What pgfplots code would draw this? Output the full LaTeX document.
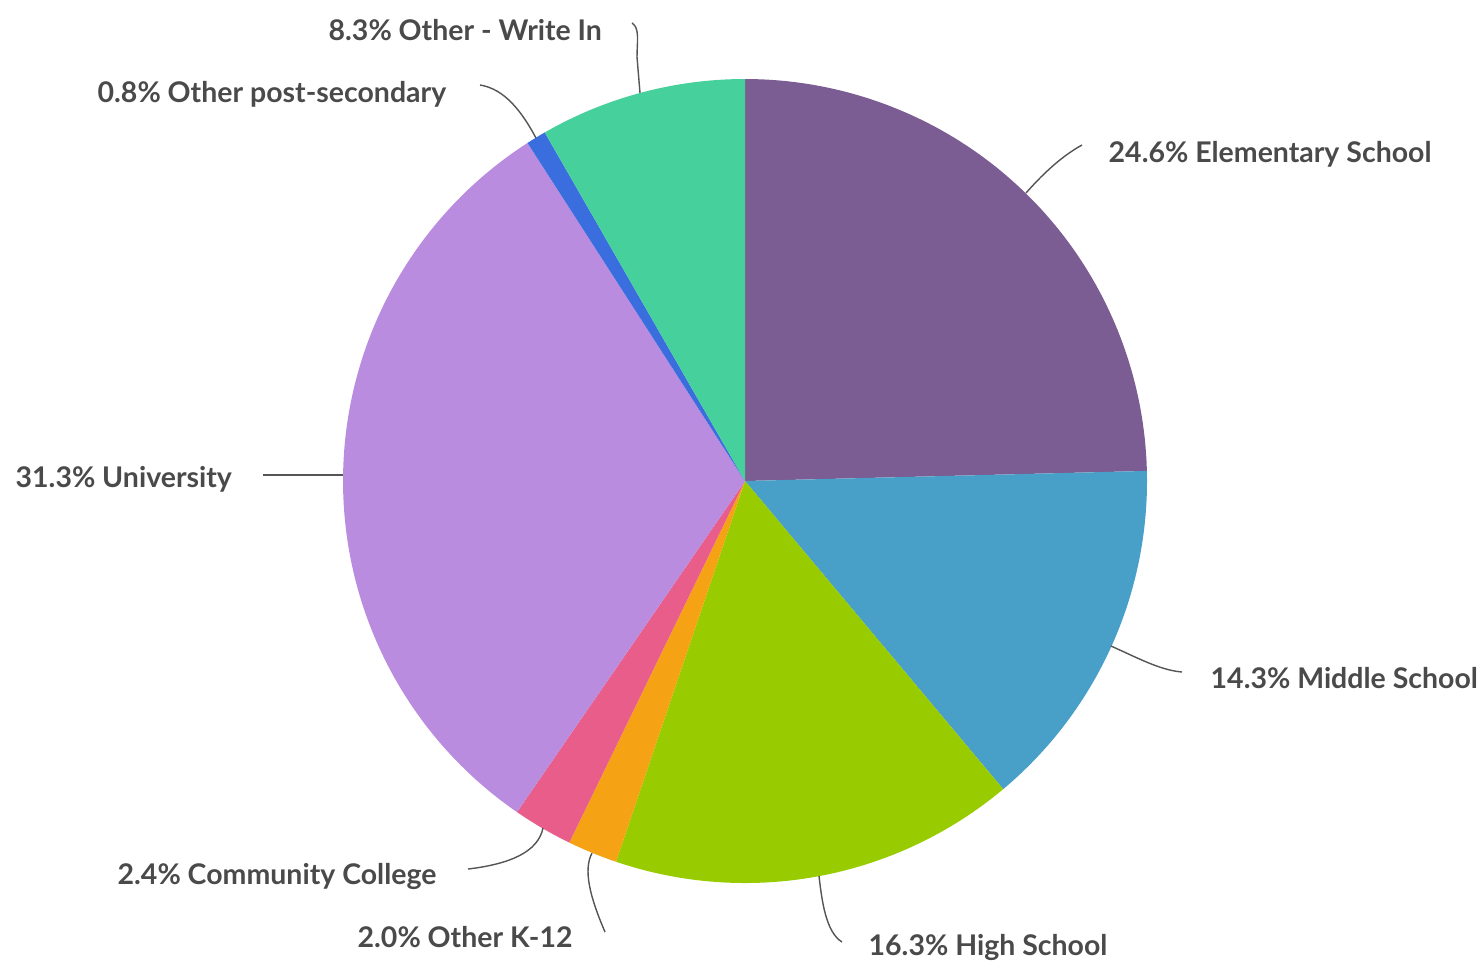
\documentclass[border=0pt]{standalone}
\usepackage{pgfplots}
\usepackage{pgfplotstable}
\pgfplotsset{compat=1.18}
\usepackage{fontspec}
\setmainfont{Lato}
\definecolor{cElem}{HTML}{7B5D93}
\definecolor{cMid}{HTML}{48A0C8}
\definecolor{cHigh}{HTML}{99CC00}
\definecolor{cK}{HTML}{F5A314}
\definecolor{cCC}{HTML}{E95D8A}
\definecolor{cUni}{HTML}{BA8CE0}
\definecolor{cPost}{HTML}{3A6EDE}
\definecolor{cWrite}{HTML}{45D09C}
\definecolor{txt}{HTML}{4A4A4A}
\definecolor{lead}{HTML}{555555}

\pgfplotstableread[col sep=comma]{
label,value,color
Elementary School,24.6,cElem
Middle School,14.3,cMid
High School,16.3,cHigh
Other K-12,2.0,cK
Community College,2.4,cCC
University,31.3,cUni
Other post-secondary,0.8,cPost
Other - Write In,8.3,cWrite
}\piedata

\begin{document}
\begin{tikzpicture}
\begin{axis}[
  width=14.79cm, height=9.62cm, scale only axis,
  xmin=0, xmax=1479, ymin=0, ymax=962,
  hide axis, clip=false,
]
\pgfplotstablegetrowsof{\piedata}
\pgfmathtruncatemacro{\N}{\pgfplotsretval-1}
\def\cum{0}
\pgfplotsforeachungrouped \i in {0,...,\N}{%
  \pgfplotstablegetelem{\i}{value}\of{\piedata}\let\v\pgfplotsretval
  \pgfplotstablegetelem{\i}{color}\of{\piedata}\let\c\pgfplotsretval
  \pgfmathsetmacro{\aend}{90-3.6*\cum}%
  \pgfmathsetmacro{\cum}{\cum+\v}%
  \pgfmathsetmacro{\astart}{90-3.6*\cum}%
  \edef\doplot{\noexpand\addplot[fill=\c, draw=none, domain=\astart:\aend, samples=120] ({745+402*cos(x)},{481+402*sin(x)}) -- (745,481) -- cycle;}%
  \doplot
}

% leader lines
\begin{scope}[lead, line width=0.4pt]
\draw (632,939) .. controls (640,934) and (637,920) .. (637,905) -- (640,869);
\draw (480,877) .. controls (505,873) and (522,850) .. (536,824);
\draw (1082,817) .. controls (1060,805) and (1040,785) .. (1026,769);
\draw (263,487) -- (343,487);
\draw (1111,316) .. controls (1140,303) and (1160,292) .. (1182,290);
\draw (819,86) .. controls (822,60) and (826,30) .. (842,20);
\draw (592,109) .. controls (583,92) and (590,65) .. (605,30);
\draw (543,134) .. controls (538,110) and (510,98) .. (468,93);
\end{scope}

% labels
\begin{scope}[every node/.style={anchor=base west, inner sep=0pt, text=txt, font=\fontsize{8.1}{10}\selectfont\bfseries}]
\node at (328,922) {8.3\% Other - Write In};
\node at (97,860) {0.8\% Other post-secondary};
\node at (1108,800) {24.6\% Elementary School};
\node at (15,475) {31.3\% University};
\node at (1210,274) {14.3\% Middle School};
\node at (868,7) {16.3\% High School};
\node at (117,78) {2.4\% Community College};
\node at (357,15) {2.0\% Other K-12};
\end{scope}
\end{axis}
\pgfresetboundingbox
\path (current axis.south west) rectangle (current axis.north east);
\end{tikzpicture}
\end{document}
